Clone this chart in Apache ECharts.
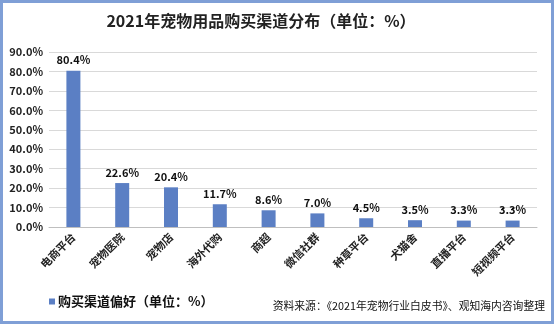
<!DOCTYPE html>
<html><head><meta charset="utf-8">
<script src="https://cdn.jsdelivr.net/npm/echarts@6/dist/echarts.min.js"></script>
<style>
html,body{margin:0;padding:0;background:#fff;}
#frame{position:absolute;left:0;top:0;width:548px;height:318px;border:3px solid #7f9fd6;}
#c{position:absolute;left:0;top:0;width:554px;height:324px;}
</style></head><body>
<div id="frame"></div>
<div id="c"></div>
<script>
const categories = ['电商平台','宠物医院','宠物店','海外代购','商超','微信社群','种草平台','犬猫舍','直播平台','短视频平台'];
const values = [80.4, 22.6, 20.4, 11.7, 8.6, 7.0, 4.5, 3.5, 3.3, 3.3];
const seriesName = '购买渠道偏好（单位：%）';
const titleText = '2021年宠物用品购买渠道分布（单位：%）';
const sourceText = '资料来源：《2021年宠物行业白皮书》、观知海内咨询整理';

const chart = echarts.init(document.getElementById('c'));
const font = '"Noto Sans CJK SC", sans-serif';
chart.setOption({
  animation:false,
  textStyle:{fontFamily:font},
  title:[{text:titleText,left:256,textAlign:'center',top:8,textStyle:{fontSize:16,fontWeight:'bold',color:'#222',fontFamily:font}},
         {text:sourceText,right:4,top:296,textStyle:{fontSize:10.8,fontWeight:'normal',color:'#111',fontFamily:font}}],
  legend:{left:44,top:290,itemWidth:6,itemHeight:6,icon:'rect',itemGap:4,
    textStyle:{fontSize:13,fontWeight:'bold',color:'#111',fontFamily:font,padding:[0,0,0,-2]}},
  grid:{left:49,right:17,top:52,bottom:97},
  xAxis:{type:'category',data:categories,
    axisLine:{lineStyle:{color:'#bfbfbf'}},axisTick:{show:false},
    axisLabel:{rotate:45,fontSize:11,fontWeight:'bold',color:'#222',interval:0,margin:8}},
  yAxis:{type:'value',min:0,max:90,interval:10,
    axisLine:{show:false},axisTick:{show:false},
    splitLine:{lineStyle:{color:'#d9d9d9'}},
    axisLabel:{formatter:v=>v.toFixed(1)+'%',fontSize:11,fontWeight:'bold',color:'#222',margin:6}},
  series:[{name:seriesName,type:'bar',data:values,barWidth:14,
    itemStyle:{color:'#5b7fc4'},
    label:{show:true,position:'top',distance:5,formatter:p=>p.value.toFixed(1)+'%',fontSize:11,fontWeight:'bold',color:'#111'}}]
});
</script></body></html>
